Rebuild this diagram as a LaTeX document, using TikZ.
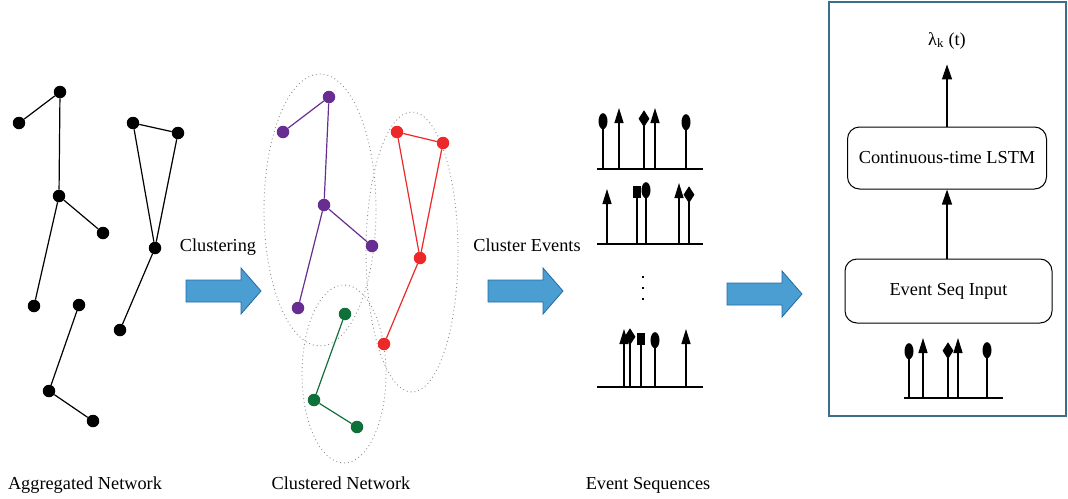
\documentclass[tikz,border=0pt]{standalone}
\usepackage{fontspec}
\setmainfont{Liberation Serif}
\usetikzlibrary{arrows.meta,positioning,shapes.geometric}

\definecolor{clpurple}{RGB}{104,45,145}
\definecolor{clred}{RGB}{237,40,40}
\definecolor{clgreen}{RGB}{16,112,58}
\definecolor{arrfill}{RGB}{75,158,210}
\definecolor{arrdraw}{RGB}{35,105,165}
\definecolor{panelcol}{RGB}{60,110,138}

% event marker: #1 style, #2 x, #3 base y, #4 top of marker
\newcommand{\evmark}[4]{%
  \node[#1, anchor=north] (m#2x#3) at (#2,#4) {};
  \draw[stem] (#2,#3) -- (m#2x#3.center);}
% event arrow: #1 x, #2 base y, #3 tip y
\newcommand{\evarrow}[3]{%
  \draw[stem, -{Triangle[length=15pt,width=9pt]}] (#1,#2) -- (#1,#3);}
% fat blue arrow from the left end of its shaft
\newcommand{\blockarrow}[1]{%
  \draw[blk] (#1) ++(0,-11) -- ++(55,0) -- ++(0,-12) -- ++(20,23)
    -- ++(-20,23) -- ++(0,-12) -- ++(-55,0) -- cycle;}

\begin{document}
\begin{tikzpicture}[x=1pt, y=-1pt, font=\fontsize{18.3}{21}\selectfont,
    dot/.style={circle, fill=#1, minimum size=12.5pt, inner sep=0pt},
    dot/.default=black,
    lnk/.style={line width=1.2pt},
    clus/.style={black!45, line width=0.9pt, dash pattern=on 0.9pt off 3pt},
    blk/.style={draw=arrdraw, fill=arrfill, line width=0.8pt, line join=miter},
    stem/.style={line width=1.3pt},
    base/.style={line width=1.4pt},
    oval/.style={ellipse, fill=black, minimum width=9pt, minimum height=16pt, inner sep=0pt},
    dia/.style={diamond, fill=black, minimum width=11pt, minimum height=17pt, inner sep=0pt},
    sq/.style={rectangle, fill=black, minimum width=8.5pt, minimum height=12pt, inner sep=0pt},
    rbox/.style={draw, rounded corners=12pt, line width=1pt, inner sep=0pt},
    arr/.style={line width=1.2pt, -{Triangle[length=15pt,width=10pt]}}]
  \useasboundingbox (0,0) rectangle (1068,498);

  % aggregated network
  \foreach \n/\x/\y in {a1/60/92, a2/19/123, a3/59/196, a4/103/233, a5/34/306,
      b1/133/123, b2/178/133, b3/155/248, b4/120/330,
      c1/79/305, c2/49/391, c3/93/421}
    \node[dot] (\n) at (\x,\y) {};
  \foreach \u/\v in {a2/a1, a1/a3, a3/a4, a3/a5, b1/b2, b1/b3, b2/b3, b3/b4, c1/c2, c2/c3}
    \draw[lnk] (\u) -- (\v);
  \node[anchor=base] (lagg) at (85,489) {Aggregated Network};

  % clustering step
  \node[anchor=base] (lclu) at (218,251) {Clustering};
  \coordinate (ba1) at (186,291);
  \blockarrow{ba1}

  % clustered network
  \draw[clus] (320,210) ellipse [x radius=56, y radius=136];
  \draw[clus] (412,252) ellipse [x radius=46, y radius=140];
  \draw[clus] (344,374) ellipse [x radius=42, y radius=89];
  \foreach \n/\x/\y in {p1/329/97, p2/283/132, p3/324/205, p4/372/246, p5/298/308}
    \node[dot=clpurple] (\n) at (\x,\y) {};
  \foreach \n/\x/\y in {r1/397/132, r2/443/143, r3/420/258, r4/384/344}
    \node[dot=clred] (\n) at (\x,\y) {};
  \foreach \n/\x/\y in {g1/345/314, g2/314/400, g3/357/427}
    \node[dot=clgreen] (\n) at (\x,\y) {};
  \foreach \u/\v in {p2/p1, p1/p3, p3/p4, p3/p5}
    \draw[lnk, clpurple] (\u) -- (\v);
  \foreach \u/\v in {r1/r2, r1/r3, r2/r3, r3/r4}
    \draw[lnk, clred] (\u) -- (\v);
  \foreach \u/\v in {g1/g2, g2/g3}
    \draw[lnk, clgreen] (\u) -- (\v);
  \node[anchor=base] (lcnet) at (341,489) {Clustered Network};

  % cluster events step
  \node[anchor=base] (lcev) at (527,251) {Cluster Events};
  \coordinate (ba2) at (488,291);
  \blockarrow{ba2}

  % event sequences
  \draw[base] (597,169) -- (703,169);
  \evmark{oval}{603}{169}{113}
  \evarrow{619}{169}{108}
  \evmark{dia}{644}{169}{110}
  \evarrow{655}{169}{108}
  \evmark{oval}{686}{169}{114}

  \draw[base] (597,244) -- (703,244);
  \evarrow{607}{244}{189}
  \evmark{sq}{637}{244}{186}
  \evmark{oval}{646}{244}{182}
  \evarrow{679}{244}{183}
  \evmark{dia}{689}{244}{186}

  \foreach \y [count=\i] in {277,288,299}
    \node[rectangle, fill=black, minimum size=2.4pt, inner sep=0pt] (vd\i) at (643,\y) {};

  \draw[base] (597,387) -- (703,387);
  \evarrow{624}{387}{329}
  \evmark{dia}{630}{387}{328}
  \evmark{sq}{641}{387}{333}
  \evmark{oval}{655}{387}{332}
  \evarrow{686}{387}{329}
  \node[anchor=base] (lseq) at (648,489) {Event Sequences};

  \coordinate (ba3) at (727,294);
  \blockarrow{ba3}

  % model panel
  \draw[panelcol, line width=1.5pt] (829,2) rectangle (1066,416);
  \node[rbox, minimum width=199pt, minimum height=62pt] (lstm) at (947,158) {Continuous-time LSTM};
  \node[rbox, minimum width=207pt, minimum height=64pt] (inp) at (948.5,291) {Event Seq Input};
  \node[anchor=base] (lam) at (947,45) {λ\textsubscript{k} (t)};
  \draw[arr] (inp.north -| lstm.south) -- (lstm.south);
  \draw[arr, shorten >=12pt] (lstm.north) -- (lam.south);

  \draw[base] (904,398) -- (1003,398);
  \evmark{oval}{909}{398}{343}
  \evarrow{923}{398}{338}
  \evmark{dia}{948}{398}{342}
  \evarrow{958}{398}{338}
  \evmark{oval}{987}{398}{342}
\end{tikzpicture}
\end{document}
